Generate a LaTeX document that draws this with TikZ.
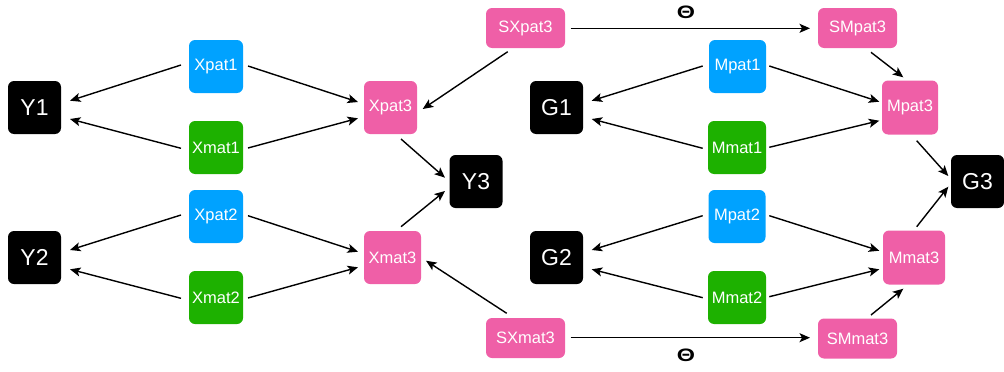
\documentclass[tikz,border=0pt]{standalone}
\usepackage{fontspec}
\setmainfont{Liberation Sans}
\usetikzlibrary{arrows.meta}
\definecolor{cblue}{HTML}{00A2FF}
\definecolor{cgreen}{HTML}{1DB100}
\definecolor{cpink}{HTML}{EF5FA7}
\tikzset{
  box/.style={rounded corners=6pt, inner sep=0pt, text=white, font=\fontsize{16.5}{18}\selectfont},
  sq/.style={box, minimum width=54pt, minimum height=53pt},
  blk/.style={box, fill=black, minimum width=53pt, minimum height=53pt, font=\fontsize{23}{25}\selectfont},
  bl/.style={sq, fill=cblue},
  gr/.style={sq, fill=cgreen},
  pk/.style={sq, fill=cpink},
  wide/.style={box, fill=cpink, minimum width=79pt, minimum height=40pt},
  arr/.style={line width=1.4pt, -{Stealth[length=10.5pt,width=9pt,inset=2.5pt]}},
  theta/.style={font=\bfseries\fontsize{18}{20}\selectfont, xscale=1.3}
}
\begin{document}
\begin{tikzpicture}[x=1pt,y=-1pt]
\useasboundingbox (0,0) rectangle (1004,372);
% left half
\node[blk] (Y1) at (34.5,107.5) {Y1};
\node[blk] (Y2) at (34.5,257.5) {Y2};
\node[bl] (Xpat1) at (216,66.5) {Xpat1};
\node[gr] (Xmat1) at (216,147.5) {Xmat1};
\node[bl] (Xpat2) at (216,216.5) {Xpat2};
\node[gr] (Xmat2) at (216,297.5) {Xmat2};
\node[pk, minimum width=53pt] (Xpat3) at (390.5,107.5) {Xpat3};
\node[pk, minimum width=57pt] (Xmat3) at (392.5,257.5) {Xmat3};
\node[blk] (Y3) at (476,181.5) {Y3};
% top/bottom
\node[wide] (SXpat3) at (525.5,28) {SXpat3};
\node[wide] (SMpat3) at (857.5,28) {SMpat3};
\node[wide] (SXmat3) at (525.5,338) {SXmat3};
\node[wide] (SMmat3) at (857.5,338.5) {SMmat3};
\node[theta] (T1) at (686,12) {Θ};
\node[theta] (T2) at (686,355) {Θ};
% right half
\node[blk] (G1) at (556.5,107.5) {G1};
\node[blk] (G2) at (556.5,257.5) {G2};
\node[bl, minimum width=57pt] (Mpat1) at (737.5,66.5) {Mpat1};
\node[gr, minimum width=58pt] (Mmat1) at (737,147.5) {Mmat1};
\node[bl, minimum width=57pt] (Mpat2) at (737,216.5) {Mpat2};
\node[gr, minimum width=58pt] (Mmat2) at (737,297.5) {Mmat2};
\node[pk, minimum width=56pt, minimum height=54pt] (Mpat3) at (910,107.5) {Mpat3};
\node[pk, minimum width=62pt, minimum height=54pt] (Mmat3) at (914,257.5) {Mmat3};
\node[blk] (G3) at (977.5,181.5) {G3};
% edges left
\draw[arr] ([shift={(-35,-1.5)}]Xpat1.center) -- ([shift={(35.5,-6.8)}]Y1.center);
\draw[arr] ([shift={(-35,0.8)}]Xmat1.center) -- ([shift={(35.5,11.5)}]Y1.center);
\draw[arr] ([shift={(32,-0.5)}]Xpat1.center) -- ([shift={(-32.5,-5.5)}]Xpat3.center);
\draw[arr] ([shift={(32,0.5)}]Xmat1.center) -- ([shift={(-32.5,10.8)}]Xpat3.center);
\draw[arr] ([shift={(-35,-1.5)}]Xpat2.center) -- ([shift={(35.5,-7.5)}]Y2.center);
\draw[arr] ([shift={(-35,0.8)}]Xmat2.center) -- ([shift={(35.5,11.8)}]Y2.center);
\draw[arr] ([shift={(32,-0.8)}]Xpat2.center) -- ([shift={(-34.5,-5.8)}]Xmat3.center);
\draw[arr] ([shift={(32,0.5)}]Xmat2.center) -- ([shift={(-34.5,9.8)}]Xmat3.center);
\draw[arr] ([shift={(10.5,31.5)}]Xpat3.center) -- ([shift={(-31,-3.8)}]Y3.center);
\draw[arr] ([shift={(8.5,-30.8)}]Xmat3.center) -- ([shift={(-31,9.5)}]Y3.center);
\draw[arr] ([shift={(-17.8,23.7)}]SXpat3.center) -- ([shift={(32.2,1.5)}]Xpat3.center);
\draw[arr] ([shift={(-18.8,-24.7)}]SXmat3.center) -- ([shift={(33.5,3.2)}]Xmat3.center);
% top/bottom edges
\draw[arr] ([shift={(45.2,0.3)}]SXpat3.center) -- ([shift={(-47.5,0.3)}]SMpat3.center);
\draw[arr] ([shift={(45.2,-0.3)}]SXmat3.center) -- ([shift={(-47.5,-0.8)}]SMmat3.center);
\draw[arr] ([shift={(13.5,24.3)}]SMpat3.center) -- ([shift={(-6.7,-30.2)}]Mpat3.center);
\draw[arr] ([shift={(13.5,-23.5)}]SMmat3.center) -- ([shift={(-10.7,31.2)}]Mmat3.center);
% edges right
\draw[arr] ([shift={(-34.8,-0.5)}]Mpat1.center) -- ([shift={(35.2,-6.8)}]G1.center);
\draw[arr] ([shift={(-34.3,0.8)}]Mmat1.center) -- ([shift={(35.2,11.5)}]G1.center);
\draw[arr] ([shift={(31.8,-0.5)}]Mpat1.center) -- ([shift={(-30.7,-5.8)}]Mpat3.center);
\draw[arr] ([shift={(32.3,-0.2)}]Mmat1.center) -- ([shift={(-30.7,13.2)}]Mpat3.center);
\draw[arr] ([shift={(-34.3,-0.8)}]Mpat2.center) -- ([shift={(35.2,-7.5)}]G2.center);
\draw[arr] ([shift={(-34.3,0.2)}]Mmat2.center) -- ([shift={(35.2,11.8)}]G2.center);
\draw[arr] ([shift={(32.3,-0.8)}]Mpat2.center) -- ([shift={(-34.7,-6.8)}]Mmat3.center);
\draw[arr] ([shift={(32.3,-0.8)}]Mmat2.center) -- ([shift={(-34.7,11.8)}]Mmat3.center);
\draw[arr] ([shift={(6.7,33.2)}]Mpat3.center) -- ([shift={(-29.2,-5.5)}]G3.center);
\draw[arr] ([shift={(2.7,-30.8)}]Mmat3.center) -- ([shift={(-29.2,5.2)}]G3.center);
\end{tikzpicture}
\end{document}
